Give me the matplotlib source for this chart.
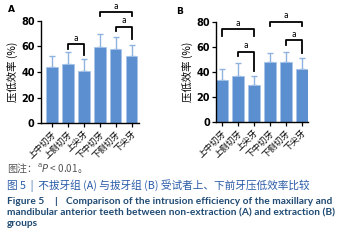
import matplotlib.pyplot as plt
import numpy as np

plt.rcParams['font.family'] = ['Noto Sans CJK SC', 'DejaVu Sans']

teeth = ["上中切牙", "上侧切牙", "上尖牙", "下中切牙", "下侧切牙", "下尖牙"]

# non-extraction group (A)
mean_a = [44.3, 46.1, 41.1, 59.8, 58.4, 52.9]
sd_a = [8.5, 9.6, 8.8, 10.2, 9.2, 8.1]
# extraction group (B)
mean_b = [33.6, 36.5, 29.6, 48.2, 48.0, 42.7]
sd_b = [8.8, 11.0, 7.2, 7.0, 8.0, 8.5]

# significance brackets: (left bar, right bar, height, left drop, right drop)
sig_a = [(1, 2, 62.0, 58.0, 53.4), (3, 5, 86.7, 84.0, 84.0), (4, 5, 75.5, 72.4, 65.6)]
sig_b = [(0, 2, 74.0, 69.0, 69.0), (1, 2, 56.3, 52.5, 41.0),
         (3, 5, 80.3, 76.5, 76.5), (4, 5, 65.3, 61.9, 55.2)]

W, H = 351, 242
fig = plt.figure(figsize=(W / 100, H / 100), dpi=100)

bar_col = "#5B8FCF"
err_col = "#8FB3E0"


def px_axes(left, right, top, bottom):
    return fig.add_axes([left / W, 1 - bottom / H, (right - left) / W, (bottom - top) / H])


def draw_panel(ax, means, sds, sigs, xlim):
    x = np.arange(len(teeth))
    ax.bar(x, means, width=0.72, color=bar_col, edgecolor="#A8C5EA", linewidth=0.6, zorder=2)
    ax.errorbar(x, means, yerr=[np.zeros(len(sds)), sds], fmt="none", ecolor=err_col,
                elinewidth=1.0, capsize=2.5, capthick=1.0, zorder=1)
    ax.set_xlim(*xlim)
    ax.set_ylim(0, 80)
    ax.set_yticks([0, 20, 40, 60, 80])
    ax.set_xticks(x)
    ax.set_xticklabels(teeth, rotation=45, ha="right", rotation_mode="anchor", fontsize=6.3)
    for lab in ax.get_yticklabels():
        lab.set_fontsize(7)
        lab.set_fontweight("bold")
        lab.set_family("DejaVu Sans")
    ax.tick_params(axis="both", direction="out", length=3, width=0.9, pad=1.5)
    ax.spines["top"].set_visible(False)
    ax.spines["right"].set_visible(False)
    for s in ["left", "bottom"]:
        ax.spines[s].set_linewidth(1.0)
    ax.set_ylabel("压低效率 (%)", fontsize=7.5, labelpad=2)
    for i, j, h, dl, dr in sigs:
        ax.plot([i, i, j, j], [dl, h, h, dr], color="black", lw=1.3, clip_on=False, zorder=3)
        ax.text((i + j) / 2, h + 1.0, "a", ha="center", va="bottom", fontsize=5.5,
                family="DejaVu Sans", clip_on=False)


ax_a = px_axes(41, 139, 21, 123)
draw_panel(ax_a, mean_a, sd_a, sig_a, (-0.69, 5.46))
ax_b = px_axes(216, 308, 22, 122)
draw_panel(ax_b, mean_b, sd_b, sig_b, (-0.36, 5.39))

fig.text(11 / W, 1 - 10 / H, "A", fontsize=6.5, fontweight="bold", family="DejaVu Sans",
         ha="center", va="center")
fig.text(180 / W, 1 - 11 / H, "B", fontsize=6.5, fontweight="bold", family="DejaVu Sans",
         ha="center", va="center")

# caption
fig.text(7 / W, 1 - 168 / H, r"图注：$^\mathrm{a}P$ < 0.01。", fontsize=7.2, color="#555555",
         va="center", ha="left")
fig.text(7 / W, 1 - 186 / H, "图 5  |  不拔牙组 (A) 与拔牙组 (B) 受试者上、下前牙压低效率比较",
         fontsize=7.7, color="#2A5BA8", va="center", ha="left")

en_style = dict(fontsize=7.3, fontweight="bold", family=["Lato", "DejaVu Sans"],
                color="#1F4A73", va="center", ha="left")
fig.text(7 / W, 1 - 201 / H, "Figure 5", **en_style)
fig.text(54 / W, 1 - 201 / H, "|", **en_style)
fig.text(66 / W, 1 - 201 / H,
         "Comparison of the intrusion efficiency of the maxillary and", **en_style)
fig.text(7 / W, 1 - 212.5 / H,
         "mandibular anterior teeth between non-extraction (A) and extraction (B)", **en_style)
fig.text(7 / W, 1 - 224 / H, "groups", **en_style)

fig.savefig("out.png", dpi=100)
